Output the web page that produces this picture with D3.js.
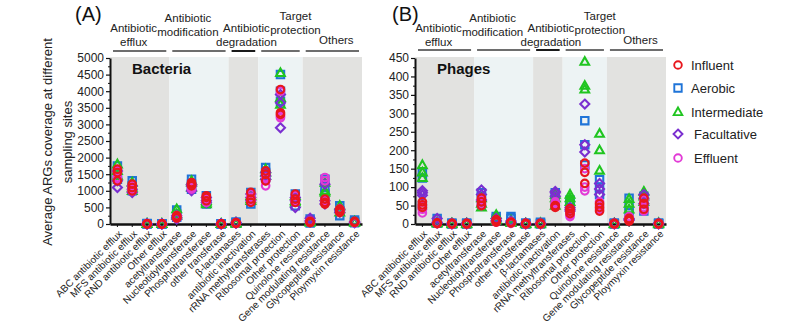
<!DOCTYPE html>
<html>
<head>
<meta charset="utf-8">
<script src="https://cdn.jsdelivr.net/npm/d3@7"></script>
<style>
  body { margin: 0; background: #fff; }
  svg { display: block; font-family: "Liberation Sans", Arial, sans-serif; }
  .axis path, .axis line { stroke: #111; }
  .axis text { fill: #222; }
</style>
</head>
<body>
<svg id="chart" width="800" height="323"></svg>
<script>
// ARG classes along the x axis
const categories = [
  "ABC antibiotic efflux", "MFS antibiotic efflux", "RND antibiotic efflux", "Other efflux",
  "acetyltransferase", "Nucleotidyltransferase", "Phosphotransferase", "other transferase",
  "β-lactamases", "antibiotic inactivation",
  "rRNA methyltransferases", "Ribosomal protection", "Other protection",
  "Quinolone resistance", "Gene modulating resistance", "Glycopeptide resistance", "Ploymyxin resistance"
];

// mechanism groups: header lines and how many categories each spans
const groupLabels = [["Antibiotic", "efflux"], ["Antibiotic", "modification"], ["Antibiotic", "degradation"], ["Target", "protection"], ["Others"]];
const groupSizes = [4, 4, 2, 3, 4];

const sites = ["Influent", "Aerobic", "Intermediate", "Facultative", "Effluent"];

const bacteriaTicks = [0, 500, 1000, 1500, 2000, 2500, 3000, 3500, 4000, 4500, 5000];
const phageTicks = [0, 50, 100, 150, 200, 250, 300, 350, 400, 450];

// coverage per category, three samples each
const bacteriaInfluent = [
  [1650, 1550, 1300], [1200, 1100, 1000], [5, 3, 2], [4, 2, 1],
  [250, 200, 180], [1250, 1200, 1150], [850, 800, 700], [4, 2, 1],
  [30, 20, 40], [950, 750, 650],
  [1600, 1500, 1300], [4050, 3350, 3300], [900, 750, 650],
  [60, 80, 40], [750, 650, 600], [450, 400, 350], [60, 80, 50]
];
const bacteriaAerobic = [
  [1750, 1500, 1350], [1300, 1150, 1000], [15, 5, 2], [10, 5, 2],
  [420, 300, 200], [1350, 1200, 1050], [850, 700, 600], [10, 5, 2],
  [60, 30, 20], [950, 700, 600],
  [1700, 1550, 1400], [4500, 4000, 3700], [900, 750, 550],
  [150, 80, 30], [1350, 1100, 900], [550, 400, 250], [120, 70, 40]
];
const bacteriaIntermediate = [
  [1800, 1600, 1450], [1250, 1100, 1000], [8, 4, 2], [6, 3, 1],
  [450, 300, 250], [1300, 1250, 1100], [700, 650, 600], [6, 3, 1],
  [40, 25, 15], [850, 750, 700],
  [1650, 1550, 1450], [4550, 3800, 3600], [850, 650, 700],
  [100, 60, 50], [1250, 1000, 950], [550, 450, 350], [80, 60, 40]
];
const bacteriaFacultative = [
  [1100, 1300, 1600], [950, 1050, 1150], [6, 3, 2], [5, 3, 1],
  [200, 250, 150], [1000, 1200, 1150], [800, 700, 650], [5, 2, 1],
  [50, 30, 20], [800, 900, 700],
  [1350, 1450, 1550], [2900, 3650, 3900], [500, 800, 700],
  [170, 100, 60], [600, 700, 1200], [400, 450, 350], [70, 50, 40]
];
const bacteriaEffluent = [
  [1600, 1400, 1350], [1150, 1050, 1000], [4, 2, 1], [3, 2, 1],
  [220, 180, 250], [1200, 1100, 1050], [800, 750, 650], [3, 2, 1],
  [30, 20, 15], [900, 800, 700],
  [1150, 1300, 1400], [4000, 3250, 3200], [850, 700, 650],
  [80, 60, 50], [1400, 1300, 700], [450, 400, 350], [60, 50, 40]
];

const phageInfluent = [
  [60, 52, 45], [2, 3, 1], [1, 2, 0], [1, 2, 0],
  [70, 60, 50], [12, 8, 5], [5, 4, 3], [2, 1, 0],
  [2, 1, 0], [48, 45, 50],
  [42, 35, 28], [165, 140, 110], [55, 45, 35],
  [2, 1, 0], [15, 10, 8], [70, 55, 40], [2, 1, 0]
];
const phageAerobic = [
  [140, 125, 50], [15, 5, 2], [3, 1, 0], [3, 1, 0],
  [85, 75, 55], [20, 15, 10], [20, 15, 5], [3, 1, 0],
  [5, 2, 0], [85, 80, 60],
  [65, 55, 45], [280, 215, 160], [120, 80, 100],
  [3, 1, 0], [70, 50, 30], [75, 55, 35], [3, 1, 0]
];
const phageIntermediate = [
  [160, 140, 125], [5, 3, 2], [2, 1, 0], [2, 1, 0],
  [70, 55, 45], [25, 15, 10], [10, 5, 3], [2, 1, 0],
  [3, 1, 0], [80, 70, 50],
  [80, 70, 60], [440, 375, 365], [245, 200, 145],
  [2, 1, 0], [68, 55, 40], [88, 75, 60], [3, 1, 0]
];
const phageFacultative = [
  [90, 85, 78], [15, 5, 3], [2, 1, 0], [2, 1, 0],
  [92, 80, 65], [15, 10, 8], [8, 5, 4], [2, 1, 0],
  [2, 1, 0], [88, 85, 75],
  [35, 40, 45], [325, 215, 195], [110, 80, 95],
  [2, 1, 0], [10, 15, 12], [80, 70, 55], [2, 1, 0]
];
const phageEffluent = [
  [30, 40, 50], [3, 2, 1], [1, 0, 0], [1, 0, 0],
  [65, 55, 50], [10, 8, 5], [5, 3, 2], [1, 0, 0],
  [1, 0, 0], [50, 55, 60],
  [20, 25, 30], [90, 100, 150], [50, 60, 40],
  [1, 0, 0], [20, 15, 10], [65, 45, 35], [1, 0, 0]
];

// ---- styling ----
const siteStyle = {
  Influent:     { color: "#e8161c", shape: "circle" },
  Aerobic:      { color: "#1f74d8", shape: "square" },
  Intermediate: { color: "#20c520", shape: "triangle" },
  Facultative:  { color: "#7a2fd0", shape: "diamond" },
  Effluent:     { color: "#e23ad6", shape: "circle" }
};
// bottom-to-top drawing order
const drawOrder = ["Aerobic", "Intermediate", "Facultative", "Effluent", "Influent"];
const bandFill = ["#e2e2e0", "#edf3f4", "#e2e2e0", "#edf3f4", "#e2e2e0"];
// horizontal nudge of each group header and the y of each header line
const headerShift = [-6, -11, 3, 15, 4];
const headerRows = [[28, 42], [18, 32], [28, 42], [16, 30], [40]];

const svg = d3.select("#chart");

function symbolPath(shape) {
  switch (shape) {
    case "square": return "M-3.7,-3.7H3.7V3.7H-3.7Z";
    case "triangle": return "M0,-4.5L4.3,3.1L-4.3,3.1Z";
    case "diamond": return "M0,-4.5L4.5,0L0,4.5L-4.5,0Z";
    default: return null;
  }
}

function drawPanel(opt) {
  const g = svg.append("g");

  const x = d3.scaleBand().domain(categories).range([opt.x0, opt.x1]).padding(0);
  const y = d3.scaleLinear().domain([0, d3.max(opt.ticks)]).range([opt.yBottom, opt.yTop]);

  // group background bands + header lines + labels
  let start = 0;
  groupSizes.forEach((n, i) => {
    const xa = x(categories[start]);
    const xb = x(categories[start + n - 1]) + x.bandwidth();
    g.append("rect")
      .attr("x", xa).attr("y", opt.yTop - 1)
      .attr("width", xb - xa).attr("height", opt.yBottom - opt.yTop + 1)
      .attr("fill", bandFill[i]);
    g.append("line")
      .attr("x1", xa + 3).attr("x2", xb - 3)
      .attr("y1", opt.headerLine).attr("y2", opt.headerLine)
      .attr("stroke", i === 2 ? "#1a1a1a" : "#6e6e6e")
      .attr("stroke-width", 2);
    groupLabels[i].forEach((t, k) => {
      g.append("text")
        .attr("x", (xa + xb) / 2 + headerShift[i])
        .attr("y", headerRows[i][k] + 4)
        .attr("text-anchor", "middle")
        .attr("font-size", 11.5)
        .attr("fill", "#222")
        .text(t);
    });
    start += n;
  });

  // panel title inside the plot
  g.append("text")
    .attr("x", opt.x0 + 22).attr("y", 74)
    .attr("font-size", 15).attr("font-weight", "bold")
    .attr("fill", "#111")
    .text(opt.name);

  // panel letter
  g.append("text")
    .attr("x", opt.letterX).attr("y", 21)
    .attr("font-size", 20).attr("fill", "#111")
    .text(opt.letter);

  // minor ticks halfway between labelled ones
  const step = opt.ticks[1] - opt.ticks[0];
  const minor = opt.ticks.slice(0, -1).map(v => v + step / 2);
  g.append("g")
    .attr("class", "axis")
    .attr("transform", `translate(${opt.x0},0)`)
    .call(d3.axisLeft(y).tickValues(minor).tickSize(2).tickFormat(""))
    .call(a => a.select(".domain").remove())
    .selectAll("line").attr("stroke-width", 1);

  const yAxis = g.append("g")
    .attr("class", "axis")
    .attr("transform", `translate(${opt.x0},0)`)
    .call(d3.axisLeft(y).tickValues(opt.ticks).tickFormat(d3.format("d"))
      .tickSize(4).tickSizeOuter(0).tickPadding(2));
  yAxis.select(".domain").attr("stroke-width", 2);
  yAxis.selectAll("line").attr("stroke-width", 1.2);
  yAxis.selectAll("text").attr("font-size", 12);

  const xAxis = g.append("g")
    .attr("class", "axis")
    .attr("transform", `translate(0,${opt.yBottom})`)
    .call(d3.axisBottom(x).tickSize(3).tickSizeOuter(0));
  xAxis.select(".domain").attr("stroke-width", 2.4);
  xAxis.selectAll("line").attr("stroke-width", 1);
  xAxis.selectAll("text")
    .attr("x", 0).attr("y", 0).attr("dy", "0.35em")
    .attr("transform", "translate(3,8) rotate(-45)")
    .style("text-anchor", "end")
    .attr("font-size", 10);

  // sample points
  const cx = c => x(c) + x.bandwidth() / 2;
  drawOrder.forEach(site => {
    const st = siteStyle[site];
    const rows = opt.series[site];
    const pts = [];
    rows.forEach((vals, ci) => vals.forEach(v => pts.push({ c: categories[ci], v })));
    const sel = g.append("g").selectAll("g").data(pts).join("g")
      .attr("transform", d => `translate(${cx(d.c)},${y(d.v)})`);
    if (st.shape === "circle") {
      sel.append("circle").attr("r", 3.8)
        .attr("fill", "none").attr("stroke", st.color).attr("stroke-width", 2.1);
    } else {
      sel.append("path").attr("d", symbolPath(st.shape))
        .attr("fill", "none").attr("stroke", st.color).attr("stroke-width", 2.1)
        .attr("stroke-linejoin", "miter");
    }
  });
}

drawPanel({
  name: "Bacteria", letter: "(A)", letterX: 75,
  x0: 110, x1: 362, yTop: 58, yBottom: 224, headerLine: 51,
  ticks: bacteriaTicks,
  series: {
    Influent: bacteriaInfluent, Aerobic: bacteriaAerobic, Intermediate: bacteriaIntermediate,
    Facultative: bacteriaFacultative, Effluent: bacteriaEffluent
  }
});

drawPanel({
  name: "Phages", letter: "(B)", letterX: 392,
  x0: 415, x1: 666, yTop: 58, yBottom: 224, headerLine: 50,
  ticks: phageTicks,
  series: {
    Influent: phageInfluent, Aerobic: phageAerobic, Intermediate: phageIntermediate,
    Facultative: phageFacultative, Effluent: phageEffluent
  }
});

// shared y-axis title
const yTitle = svg.append("text")
  .attr("transform", "translate(47,142) rotate(-90)")
  .attr("text-anchor", "middle")
  .attr("font-size", 13)
  .attr("fill", "#222");
yTitle.append("tspan").attr("x", 0).attr("dy", "0.35em").text("Average ARGs coverage  at different");
yTitle.append("tspan").attr("x", 0).attr("dy", "1.6em").text("sampling sites");

// legend
const legendY = [65, 88, 112, 134, 158];
const legend = svg.append("g").selectAll("g").data(sites).join("g")
  .attr("transform", (d, i) => `translate(678,${legendY[i]})`);
legend.each(function (site) {
  const st = siteStyle[site];
  const el = d3.select(this);
  if (st.shape === "circle") {
    el.append("circle").attr("r", 3.8).attr("fill", "none")
      .attr("stroke", st.color).attr("stroke-width", 1.9);
  } else {
    el.append("path").attr("d", symbolPath(st.shape)).attr("fill", "none")
      .attr("stroke", st.color).attr("stroke-width", 1.9);
  }
  el.append("text").attr("x", site === "Facultative" || site === "Effluent" ? 16 : 13)
    .attr("dy", "0.36em").attr("font-size", 13).attr("fill", "#222").text(site);
});
</script>
</body>
</html>
